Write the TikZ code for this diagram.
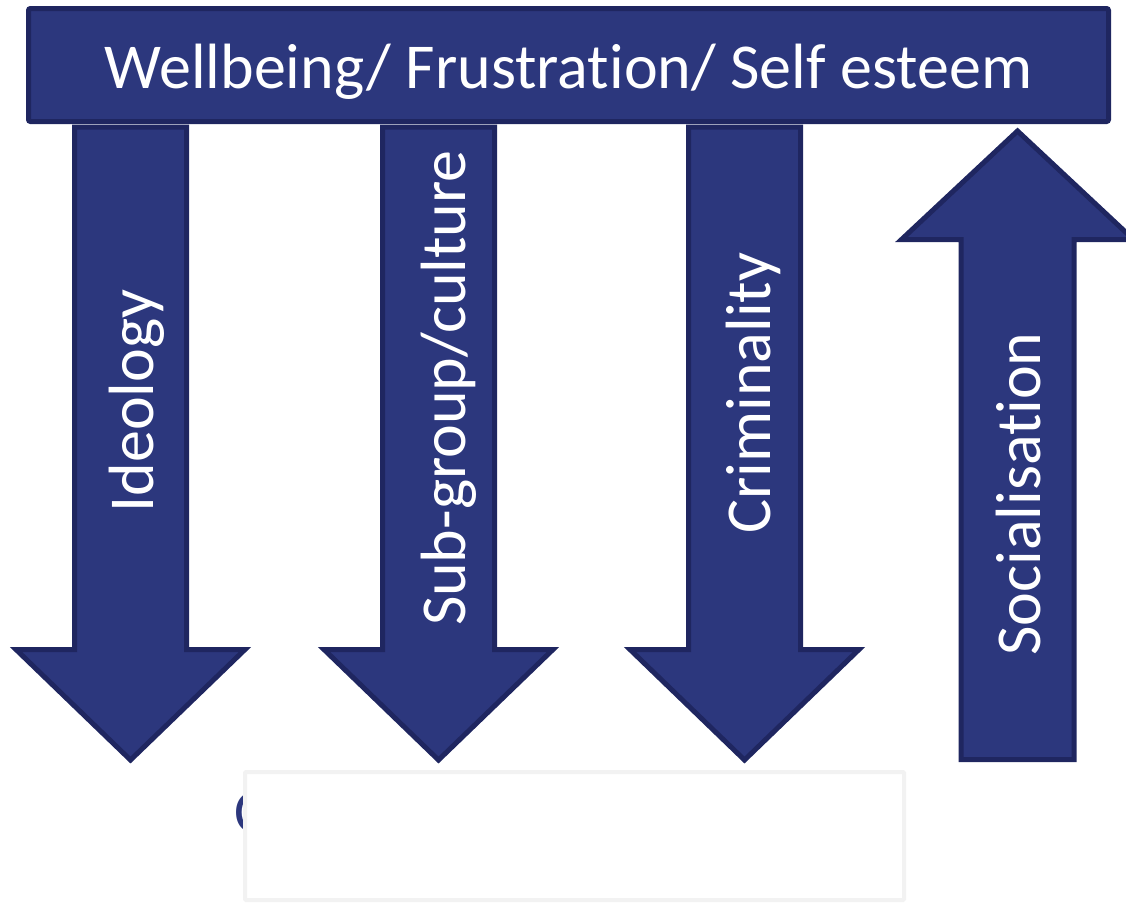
\documentclass[tikz,border=0pt]{standalone}
\usepackage{fontspec}
\setmainfont[Ligatures=NoCommon]{Carlito}
\definecolor{barfill}{HTML}{2C377D}
\definecolor{barline}{HTML}{1F2660}
\definecolor{boxline}{HTML}{F2F2F2}
\begin{document}
\begin{tikzpicture}[x=1pt,y=-1pt,
  shapebox/.style={fill=barfill,draw=barline,line width=5pt,line join=miter},
  vlabel/.style={text=white,rotate=90,anchor=base,inner sep=0pt,font=\fontsize{64}{70}\selectfont},
  toplabel/.style={text=white,anchor=base,inner sep=0pt,font=\fontsize{64}{70}\selectfont}]
\useasboundingbox (0,0) rectangle (1126,902);
\clip (0,0) rectangle (1126,902);
% hidden label behind white box
\node[anchor=base west,inner sep=0pt,text=barfill,font=\fontsize{62}{68}\selectfont] (hidden) at (234,832) {C};
% top bar
\draw[shapebox,rounded corners=2pt] (28.5,8.5) rectangle (1108.5,121.5);
\node[toplabel] (top) at (568.5,88) {Wellbeing/ Frustration/ Self esteem};
% down arrows
\foreach \c/\nm in {130.5/a1,438.5/a2,744.5/a3}{
  \draw[shapebox] (\c-56,127) -- (\c+56,127) -- (\c+56,649.5) -- (\c+114.5,649.5)
    -- (\c,760) -- (\c-114.5,649.5) -- (\c-56,649.5) -- cycle;
}
% up arrow
\draw[shapebox] (1017.5,131) -- (1017.5+116,239.5) -- (1017.5+56.5,239.5) -- (1017.5+56.5,759.5)
  -- (1017.5-56.5,759.5) -- (1017.5-56.5,239.5) -- (1017.5-116,239.5) -- cycle;
% labels
\node[vlabel] (ideo) at (153,401) {Ideology};
\node[vlabel] (sub) at (465,388) {Sub-group/culture};
\node[vlabel] (crim) at (770,393) {Criminality};
\node[vlabel] (soc) at (1040,494) {Socialisation};
% white box
\draw[fill=white,draw=boxline,line width=4pt,rounded corners=1pt] (245,772) rectangle (904,900);
\end{tikzpicture}
\end{document}
